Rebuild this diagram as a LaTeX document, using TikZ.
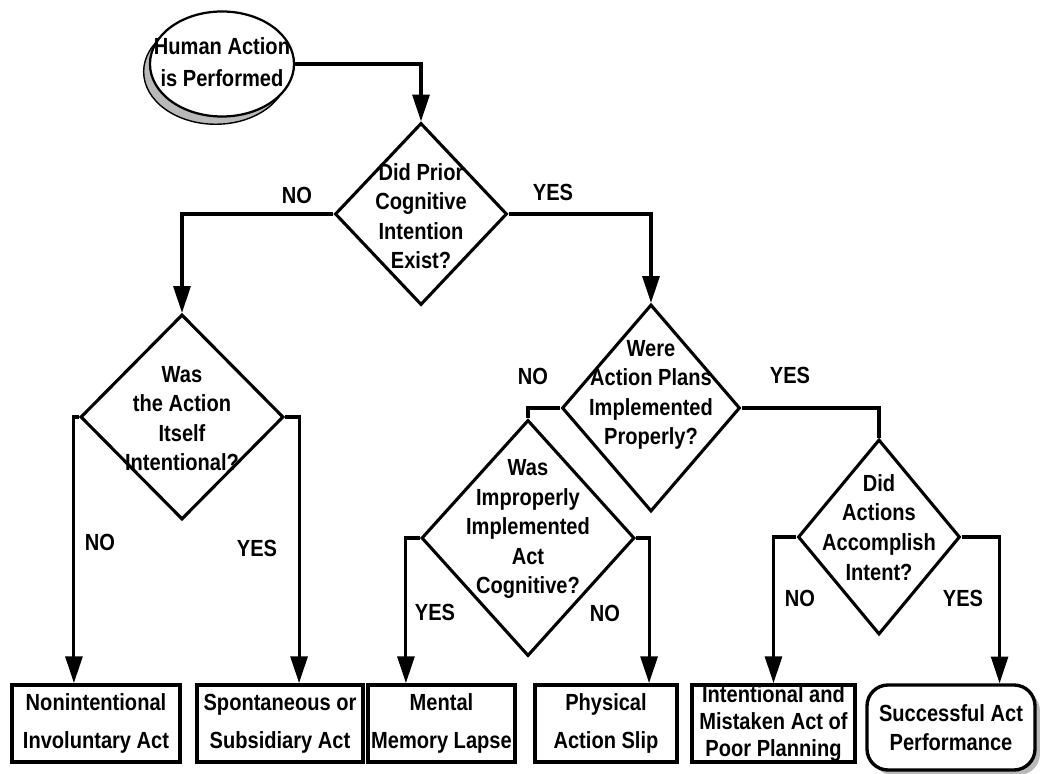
\documentclass[tikz,border=0pt]{standalone}
\usepackage{fontspec}
\setmainfont{Liberation Sans}[FakeStretch=0.86]
\usetikzlibrary{arrows.meta, shapes.geometric, shadows, calc}

% text that may run over the border of its shape
\newcommand{\qtext}[2][0pt]{\makebox[0pt]{\smash{\raisebox{#1}{\begin{tabular}{@{}c@{}}#2\end{tabular}}}}}

\begin{document}
\begin{tikzpicture}[
  x=0.025cm, y=-0.025cm,
  font=\bfseries\fontsize{16.6}{21}\selectfont,
  startoval/.style={draw, ellipse, line width=1.6pt, inner sep=0pt, fill=white,
                    minimum width=3.6cm, minimum height=2.625cm,
                    font=\bfseries\fontsize{16.6}{23}\selectfont,
                    general shadow={fill=gray!55, draw=black, line width=1pt,
                                    shadow xshift=-4.5pt, shadow yshift=-5.5pt}},
  question/.style={draw, diamond, line width=2.2pt, inner sep=0pt, fill=white},
  outcome/.style={draw, rectangle, line width=2.6pt, inner sep=0pt, align=center,
                  minimum height=1.925cm, fill=white,
                  font=\bfseries\fontsize{16.6}{27}\selectfont},
  success/.style={draw, rectangle, rounded corners=15pt, line width=2.4pt, inner sep=0pt,
                  align=center, minimum width=4.2cm, minimum height=2.125cm, fill=white,
                  font=\bfseries\fontsize{16.6}{21}\selectfont,
                  general shadow={fill=gray!55, shadow xshift=3.5pt, shadow yshift=-3.5pt}},
  arr/.style={-{Triangle[length=19pt, width=12pt]}, line width=2.2pt},
  ln/.style={line width=2.2pt},
]
\useasboundingbox (0,0) rectangle (1046,774);

\node[startoval] (start) at (222,64) {\qtext[-4.2pt]{Human Action\\is Performed}};

\node[question, minimum width=4.3cm, minimum height=4.55cm] (q1) at (421,214)
  {\qtext[-7.6pt]{Did Prior\\Cognitive\\Intention\\Exist?}};
\node[question, minimum width=5.075cm, minimum height=5.125cm] (q2) at (182,417)
  {\qtext[-7pt]{Was\\the Action\\Itself\\Intentional?}};
\node[question, minimum width=4.45cm, minimum height=5.175cm] (q3) at (651,408)
  {\qtext[5.1pt]{Were\\Action Plans\\Implemented\\Properly?}};
\node[question, minimum width=4.05cm, minimum height=4.875cm] (q4) at (879,537)
  {\qtext[0.8pt]{Did\\Actions\\Accomplish\\Intent?}};
\node[question, minimum width=5.325cm, minimum height=5.9cm] (q5) at (528,538)
  {\qtext[2.2pt]{Was\\Improperly\\Implemented\\Act\\Cognitive?}};

\node[outcome, minimum width=4.2cm]   (nonint)   at (96,723.5)  {Nonintentional\\Involuntary Act};
\node[outcome, minimum width=4.15cm]  (spont)    at (280,723.5) {Spontaneous or\\Subsidiary Act};
\node[outcome, minimum width=3.675cm] (lapse)    at (441.5,723.5) {Mental\\Memory Lapse};
\node[outcome, minimum width=3.55cm]  (slip)     at (606,723.5) {Physical\\Action Slip};
\node[outcome, minimum width=4.075cm, font=\bfseries\fontsize{16.6}{19.5}\selectfont]
  (mistake) at (773.5,723.5) {Intentional and\\Mistaken Act of\\Poor Planning};
\node[success] (succ) at (951,727.5) {Successful Act\\Performance};

% connectors
\draw[arr] (start.east) -| (q1.north);
\draw[arr] (q1.west) -| (q2.north);
\draw[arr] (q1.east) -| (q3.north);
\draw[arr] (q2.west) -| ($(q2.west |- nonint.north)+(-5,0)$);
\draw[arr] (q2.east) -| ($(q2.east |- spont.north)+(14,0)$);
\draw[ln]  (q3.west) -| (q5.north);
\draw[ln]  (q3.east) -| (q4.north);
\draw[arr] (q5.west) -| ($(q5.west |- lapse.north)+(-14,0)$);
\draw[arr] (q5.east) -| ($(q5.east |- slip.north)+(13,0)$);
\draw[arr] (q4.west) -| (mistake.north);
\draw[arr] (q4.east) -| ($(q4.east |- succ.north)+(38,0)$);

% branch labels
\node (no1)  at (297,195) {NO};
\node (yes1) at (553,192) {YES};
\node (no2)  at (100,542) {NO};
\node (yes2) at (257,548) {YES};
\node (no3)  at (533,376) {NO};
\node (yes3) at (790,375) {YES};
\node (yes4) at (435,612) {YES};
\node (no4)  at (605,613) {NO};
\node (no5)  at (800,598) {NO};
\node (yes5) at (963,598) {YES};

\end{tikzpicture}
\end{document}
